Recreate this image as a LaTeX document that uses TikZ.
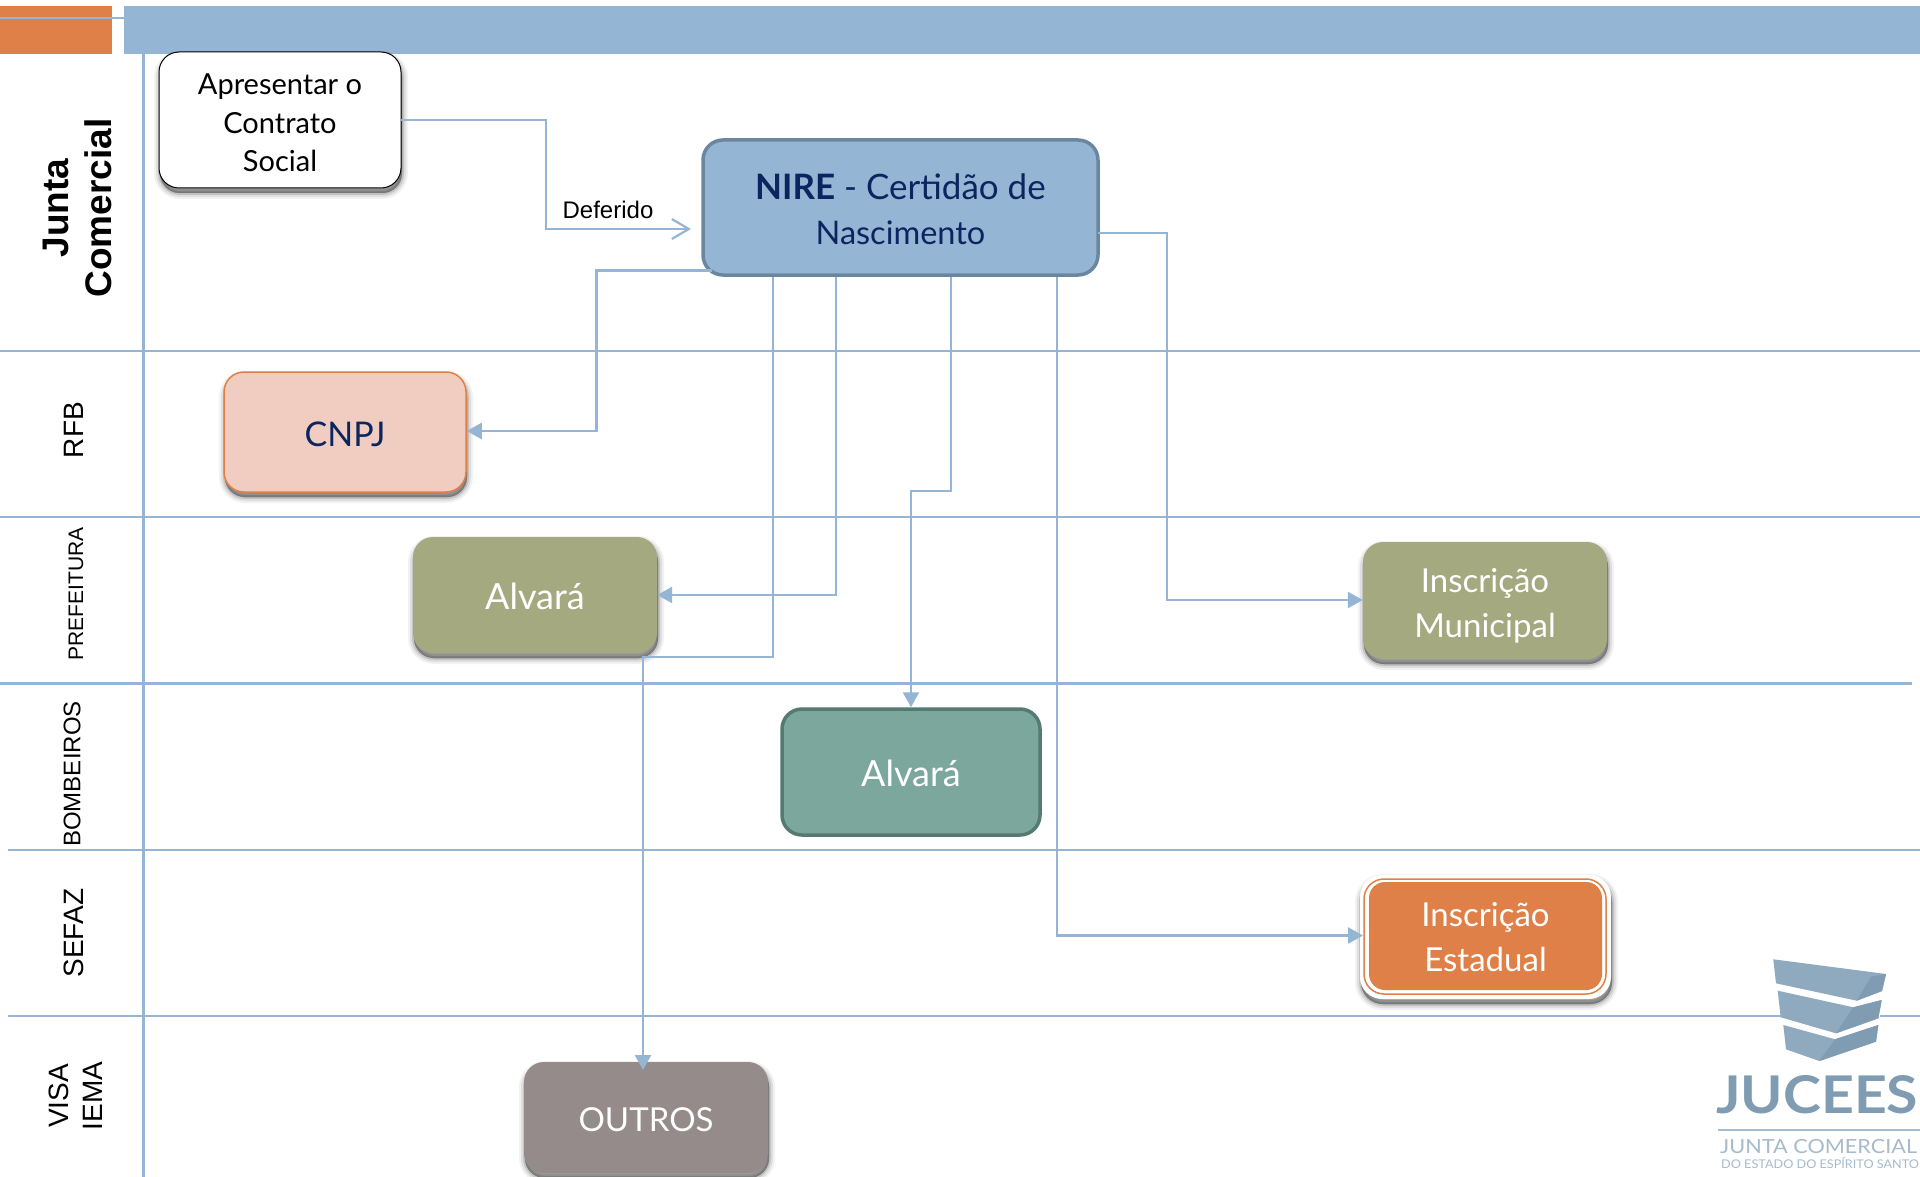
\documentclass[tikz,border=0pt]{standalone}
\usepackage{fontspec}
\setmainfont{Lato}
\newfontfamily\arialf{Liberation Sans}
\usetikzlibrary{shadows,arrows.meta,calc}
\definecolor{barblue}{HTML}{94B5D3}
\definecolor{barorange}{HTML}{DE8047}
\definecolor{linkblue}{HTML}{94B6D4}
\definecolor{olivebox}{HTML}{A5A980}
\definecolor{tealbox}{HTML}{7BA79D}
\definecolor{tealedge}{HTML}{557A72}
\definecolor{nireedge}{HTML}{6B87A0}
\definecolor{pinkbox}{HTML}{F0CDC0}
\definecolor{greybox}{HTML}{958B8B}
\definecolor{navytext}{HTML}{0B2560}
\definecolor{logolight}{HTML}{8FA9BE}
\definecolor{logodark}{HTML}{7F9CB2}
\definecolor{logotext}{HTML}{A8BBCB}
\tikzset{
  x=1pt,y=-1pt,
  lane/.style={draw=linkblue,line width=2.2pt},
  link/.style={draw=linkblue,line width=2.6pt},
  solidtip/.style={-{Triangle[length=15pt,width=16pt]}},
  opentip/.style={-{Straight Barb[length=17pt,width=20pt,line width=2.2pt]}},
  softshadow/.style={
    general shadow={draw=black,fill=black,line width=12pt,opacity=.05,shadow xshift=1pt,shadow yshift=-5pt},
    general shadow={draw=black,fill=black,line width=8pt,opacity=.08,shadow xshift=1pt,shadow yshift=-5pt},
    general shadow={draw=black,fill=black,line width=4pt,opacity=.12,shadow xshift=1pt,shadow yshift=-5pt},
    general shadow={draw=black,fill=black,line width=.5pt,opacity=.15,shadow xshift=1pt,shadow yshift=-5pt}},
  flowbox/.style={rounded corners=20pt,align=center,inner sep=0pt,font=\fontsize{33}{45}\selectfont},
  lanelabel/.style={rotate=90,align=center,text=black,inner sep=0pt},
}
\newcommand{\boxat}[6]{%
  \node[#6] (#1) at ({(#2+#4)/2},{(#3+#5)/2}) [minimum width={#4-#2},minimum height={#5-#3}]}
\newcommand{\lift}[1]{\rule{0pt}{#1pt}}
\begin{document}
\begin{tikzpicture}
\useasboundingbox (0,0) rectangle (1920,1177);
\fill[white] (0,0) rectangle (1920,1177);
% header
\fill[barorange] (0,6) rectangle (112,54);
\fill[barblue] (124,6) rectangle (1920,54);
\draw[lane] (0,18) -- (124,18);
% lanes
\draw[lane] (143.5,54) -- (143.5,1177);
\draw[lane] (0,351) -- (1920,351);
\draw[lane] (0,517) -- (1920,517);
\draw[lane] (0,683.5) -- (1912,683.5);
\draw[lane] (8,850) -- (1920,850);
\draw[lane] (8,1016) -- (1920,1016);
% lane labels
\node[lanelabel,font=\arialf\bfseries\fontsize{37}{43}\selectfont] (lanejc) at (77,208) {Junta\\Comercial};
\node[lanelabel,font=\arialf\fontsize{28}{34}\selectfont] (lanerfb) at (74,430) {RFB};
\node[lanelabel,font=\arialf\fontsize{21}{26}\selectfont] (lanepref) at (76,594) {PREFEITURA};
\node[lanelabel,font=\arialf\fontsize{24}{30}\selectfont] (lanebomb) at (72,774) {BOMBEIROS};
\node[lanelabel,font=\arialf\fontsize{28}{34}\selectfont] (lanesefaz) at (74,933) {SEFAZ};
\node[lanelabel,font=\arialf\fontsize{28}{34}\selectfont] (lanevisa) at (76,1096) {VISA\\IEMA};
% logo
\fill[white] (1773.3,959.3) -- (1886,974) -- (1876,1041.7) -- (1819.3,1061) -- (1786,1049.3) -- cycle;
\fill[logolight] (1773.3,959.3) -- (1886,974) -- (1882,991) -- (1856.7,1000.7) -- (1776,983.3) -- cycle;
\fill[logodark] (1871,976.7) -- (1886,974) -- (1882,991) -- (1856.7,1000.7) -- cycle;
\fill[logolight] (1777.7,990.7) -- (1853.3,1007.3) -- (1881.7,1000) -- (1878.3,1018.3) -- (1836,1033.3) -- (1780.7,1017.3) -- cycle;
\fill[logodark] (1853.3,1007.3) -- (1881.7,1000) -- (1878.3,1018.3) -- (1836,1033.3) -- cycle;
\fill[logolight] (1783.3,1025) -- (1835,1039.3) -- (1878.3,1025) -- (1876,1041.7) -- (1819.3,1061) -- (1786,1049.3) -- cycle;
\fill[logodark] (1835,1039.3) -- (1878.3,1025) -- (1876,1041.7) -- (1819.3,1061) -- cycle;
\node[anchor=base west,inner sep=0pt,text=logodark,xscale=1.10,font=\bfseries\fontsize{52}{52}\selectfont] (logoname) at (1716,1113) {JUCEES};
\draw[draw=logotext,line width=1.8pt] (1718,1130) -- (1920,1130);
\node[anchor=base west,inner sep=0pt,text=logotext,xscale=1.11,font=\fontsize{19.5}{20}\selectfont] (logoa) at (1720,1153) {JUNTA COMERCIAL};
\node[anchor=base west,inner sep=0pt,text=logotext,xscale=1.055,font=\fontsize{12}{12}\selectfont] (logob) at (1721,1168) {DO ESTADO DO ESPÍRITO SANTO};
% nodes
\boxat{apres}{159}{52}{401}{188}{flowbox,font=\fontsize{29}{38.5}\selectfont,draw=black,line width=1pt,fill=white,softshadow,text=black}{\lift{27}Apresentar o\\Contrato\\Social};
\boxat{nire}{703}{140}{1098}{275}{flowbox,font=\fontsize{35}{45}\selectfont,draw=nireedge,line width=3.5pt,fill=barblue,text=navytext}{\lift{30}\textbf{NIRE} - Certidão de\\{\fontsize{32.5}{45}\selectfont Nascimento}};
\boxat{cnpj}{224}{372}{466}{492}{flowbox,font=\fontsize{34}{45}\selectfont,draw=barorange,line width=1.5pt,fill=pinkbox,softshadow,text=navytext}{\lift{30}CNPJ};
\boxat{alvpref}{413}{537}{657}{653}{flowbox,font=\fontsize{36}{45}\selectfont,fill=olivebox,softshadow,text=white}{\lift{30}Alvará};
\boxat{insmun}{1363}{542}{1607}{659}{flowbox,fill=olivebox,softshadow,text=white}{\lift{35}Inscrição\\Municipal};
\boxat{alvbomb}{782}{709}{1040}{835}{flowbox,font=\fontsize{36}{45}\selectfont,draw=tealedge,line width=3.5pt,fill=tealbox,text=white}{\lift{30}Alvará};
\boxat{outros}{524}{1062}{768}{1173}{flowbox,fill=greybox,softshadow,text=white}{\lift{28}OUTROS};
\fill[white,rounded corners=22pt,softshadow] (1360,875) rectangle (1611,999);
\draw[barorange,line width=1.5pt,rounded corners=20pt] (1364,879) rectangle (1606,994);
\boxat{insest}{1369}{882}{1602}{990}{flowbox,rounded corners=16pt,fill=barorange,text=white}{\lift{27}Inscrição\\Estadual};
% connector end points
\coordinate (deftip) at (691,229);
\coordinate (nirecnpj) at (712,270.5);
\coordinate (apout) at (401,120);
\coordinate (nireout) at (1098,233);
% connectors
\draw[link,opentip] (apout) -- (546,120) -- (546,229) -- (deftip);
\node[font=\arialf\fontsize{24}{28}\selectfont,inner sep=0pt,text=black] (deflabel) at (608,210) {Deferido};
\draw[link,solidtip] (nirecnpj) -- (596.5,270.5) -- (596.5,431) -- (cnpj.east |- 0,431);
\draw[link,solidtip] (nire.south -| 836,0) -- (836,595) -- (alvpref.east |- 0,595);
\draw[link,solidtip] (nire.south -| 773,0) -- (773,657) -- (643,657) -- (643,1070);
\draw[link,solidtip] (nire.south -| 951,0) -- (951,491) -- (911,491) -- (alvbomb.north -| 911,0);
\draw[link,solidtip] (nire.south -| 1057,0) -- (1057,935.5) -- (1363,935.5);
\draw[link,solidtip] (nireout) -- (1167,233) -- (1167,600) -- (insmun.west |- 0,600);
\end{tikzpicture}
\end{document}
